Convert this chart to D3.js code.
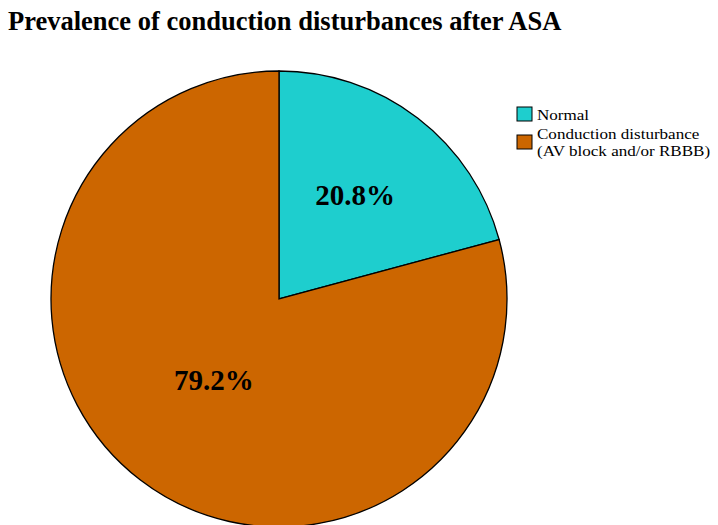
<!DOCTYPE html>
<html>
<head>
<meta charset="utf-8">
<script src="https://cdn.jsdelivr.net/npm/d3@7"></script>
<style>
  html, body { margin: 0; padding: 0; background: #fff; }
  svg { display: block; }
  svg text, svg tspan { font-family: "Liberation Serif", "Times New Roman", serif; }
</style>
</head>
<body>
<svg id="chart" width="718" height="525"></svg>
<script>
// Share of patients by conduction status after alcohol septal ablation
const categories = ["Normal", "Conduction disturbance"];
const legendLines = [["Normal"], ["Conduction disturbance", "(AV block and/or RBBB)"]];
const values = [20.8, 79.2];
const colors = ["#1ECECE", "#CC6600"];

const svg = d3.select("#chart");
const serif = "'Liberation Serif', 'Times New Roman', serif";

svg.append("text")
  .attr("x", 8)
  .attr("y", 30)
  .attr("font-family", serif)
  .attr("font-weight", "bold")
  .attr("font-size", 26.5)
  .attr("fill", "#000")
  .text("Prevalence of conduction disturbances after ASA");

const cx = 279, cy = 299, r = 228;
const g = svg.append("g").attr("transform", `translate(${cx},${cy})`);

const pie = d3.pie().sort(null).value(d => d);
const arcs = pie(values);
const arc = d3.arc().innerRadius(0).outerRadius(r);

g.selectAll("path.slice")
  .data(arcs)
  .join("path")
  .attr("class", "slice")
  .attr("d", arc)
  .attr("fill", (d, i) => colors[i])
  .attr("stroke", "#000")
  .attr("stroke-width", 1.3);

// label placement radius, as a fraction of the pie radius
const labelRadius = [0.55, 0.47];

g.selectAll("text.pct")
  .data(arcs)
  .join("text")
  .attr("class", "pct")
  .attr("transform", (d, i) => {
    const a = d3.arc().innerRadius(r * labelRadius[i]).outerRadius(r * labelRadius[i]);
    return `translate(${a.centroid(d)})`;
  })
  .attr("text-anchor", "middle")
  .attr("dy", "0.2em")
  .attr("font-family", serif)
  .attr("font-weight", "bold")
  .attr("font-size", 29)
  .attr("fill", "#000")
  .text(d => d.data.toFixed(1) + "%");

// Legend (slightly widened serif text)
const legend = svg.append("g").attr("transform", "translate(517,107)");
const rowY = [0, 28];
legendLines.forEach((lines, i) => {
  const row = legend.append("g").attr("transform", `translate(0,${rowY[i]})`);
  row.append("rect")
    .attr("x", 0).attr("y", 0)
    .attr("width", 15).attr("height", 14)
    .attr("fill", colors[i])
    .attr("stroke", "#000")
    .attr("stroke-width", 1);
  lines.forEach((line, j) => {
    const y = (lines.length === 1 ? 13 : 3.5) + j * 17.5;
    row.append("text")
      .attr("transform", `translate(20,${y}) scale(1.1,1)`)
      .attr("font-family", serif)
      .attr("font-size", 15.5)
      .attr("fill", "#000")
      .text(line);
  });
});
</script>
</body>
</html>
